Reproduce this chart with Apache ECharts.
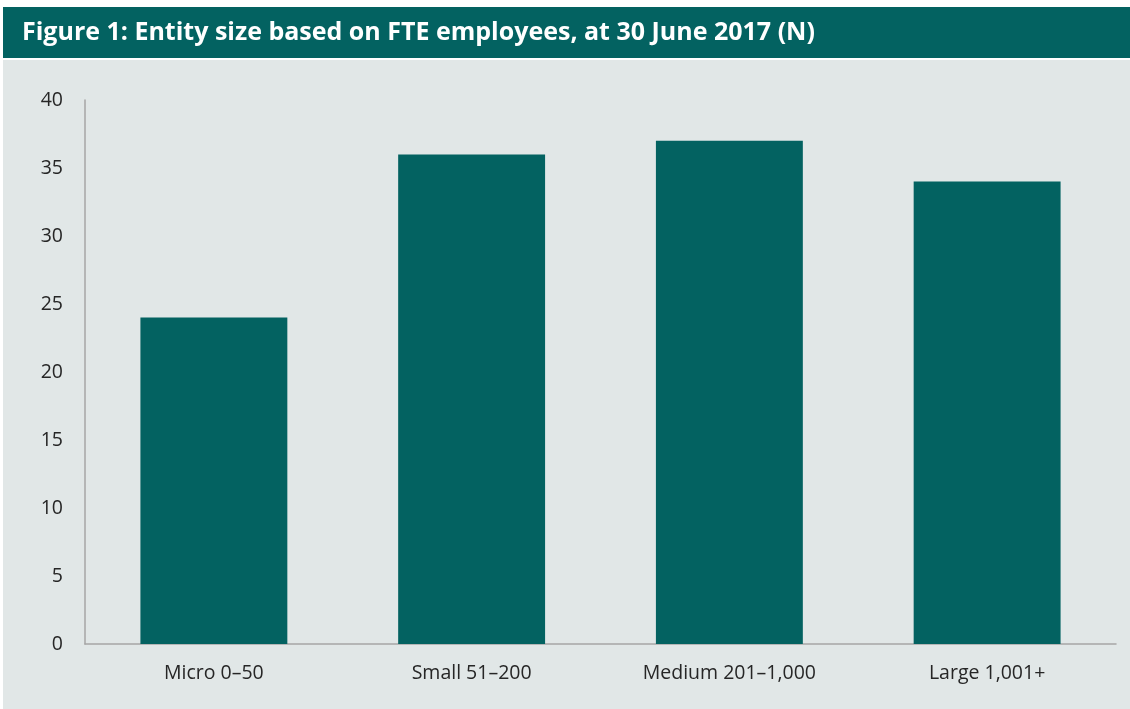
<!DOCTYPE html>
<html>
<head>
<meta charset="utf-8">
<style>
  html, body { margin: 0; padding: 0; background: #ffffff; }
  #chart { width: 1130px; height: 709px; }
</style>
<script src="https://cdn.jsdelivr.net/npm/echarts@6/dist/echarts.min.js"></script>
</head>
<body>
<div id="chart"></div>
<script>
// Entity counts by size band (FTE employees)
const categories = ['Micro 0–50', 'Small 51–200', 'Medium 201–1,000', 'Large 1,001+'];
const entityCounts = [24, 36, 37, 34];
const titleText = 'Figure 1: Entity size based on FTE employees, at 30 June 2017 (N)';

const teal = '#036261';
const panel = '#E1E7E7';
const axisGrey = '#A6A6A6';
const textColor = '#262626';
const fontFamily = '"Open Sans", "Noto Sans", sans-serif';

const chart = echarts.init(document.getElementById('chart'), null, { renderer: 'canvas' });

chart.setOption({
  backgroundColor: '#ffffff',
  animation: false,
  graphic: [
    // header band
    { type: 'rect', z: -10, shape: { x: 3, y: 7, width: 1127, height: 51 }, style: { fill: teal } },
    // chart panel
    { type: 'rect', z: -10, shape: { x: 3, y: 60, width: 1127, height: 649 }, style: { fill: panel } }
  ],
  title: {
    text: titleText,
    left: 17,
    top: 15,
    textStyle: {
      color: '#ffffff',
      fontFamily: fontFamily,
      fontWeight: 'bold',
      fontSize: 25
    }
  },
  grid: {
    left: 85,
    right: 14,
    top: 100,
    bottom: 65,
    containLabel: false
  },
  xAxis: {
    type: 'category',
    data: categories,
    axisLine: { show: true, lineStyle: { color: axisGrey, width: 1.5 } },
    axisTick: { show: false },
    axisLabel: {
      color: textColor,
      fontFamily: fontFamily,
      fontSize: 19.5,
      margin: 19
    }
  },
  yAxis: {
    type: 'value',
    min: 0,
    max: 40,
    interval: 5,
    axisLine: { show: true, lineStyle: { color: axisGrey, width: 1.5 } },
    axisTick: { show: false },
    splitLine: { show: false },
    axisLabel: {
      color: textColor,
      fontFamily: fontFamily,
      fontSize: 19.5,
      margin: 22
    }
  },
  series: [{
    type: 'bar',
    data: entityCounts,
    barCategoryGap: '43%',
    itemStyle: { color: teal },
    label: { show: false }
  }]
});
</script>
</body>
</html>
